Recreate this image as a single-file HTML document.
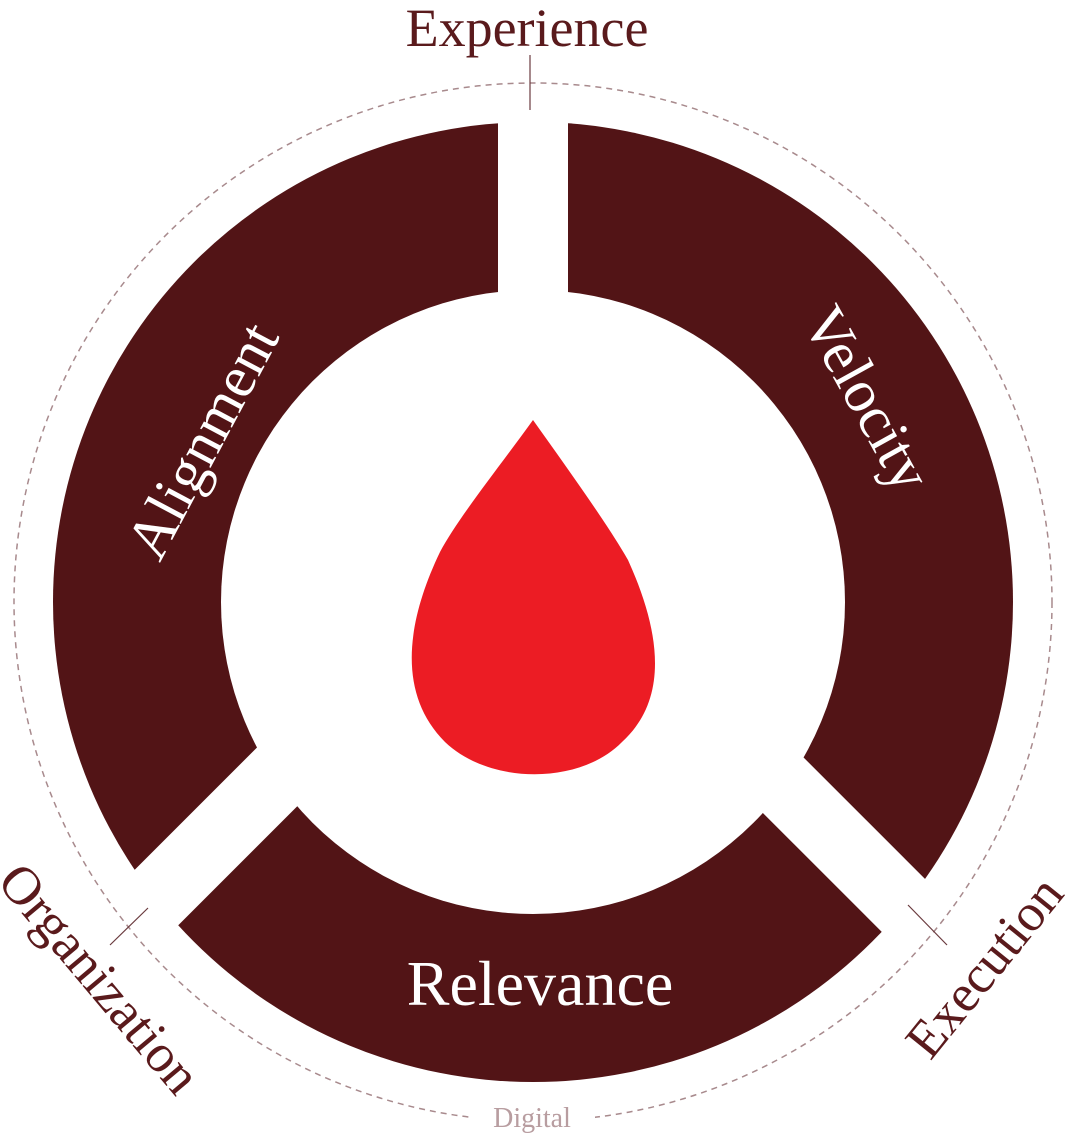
<!DOCTYPE html>
<html><head><meta charset="utf-8"><style>
html,body{margin:0;padding:0;background:#fff;}
svg{display:block;}
text{font-family:"Liberation Serif",serif;}
</style></head><body>
<svg width="1068" height="1138" viewBox="0 0 1068 1138" xmlns="http://www.w3.org/2000/svg">
<circle cx="533" cy="602" r="480" fill="#521416"/>
<circle cx="533" cy="602" r="312" fill="#fff"/>
<line x1="533" y1="60" x2="533" y2="400" stroke="#fff" stroke-width="70"/>
<line x1="420" y1="634" x2="90" y2="964" stroke="#fff" stroke-width="70"/>
<line x1="660" y1="662" x2="990" y2="992" stroke="#fff" stroke-width="68"/>
<circle cx="533" cy="602" r="519" fill="none" stroke="#a88a8d" stroke-width="1.5" stroke-dasharray="6 5"/>
<rect x="470" y="1095" width="125" height="40" fill="#fff"/>
<line x1="530" y1="55" x2="530" y2="110" stroke="#6a3a3e" stroke-width="1.2"/>
<line x1="110" y1="945" x2="148" y2="908" stroke="#6a3a3e" stroke-width="1.2"/>
<line x1="908" y1="905" x2="947" y2="945" stroke="#6a3a3e" stroke-width="1.2"/>
<path d="M533,420 C570,472 610,528 628,560 C662,635 668,700 622,742 C580,785 490,785 445,742 C398,695 405,625 440,552 C458,518 500,466 533,420 Z" fill="#ec1c24"/>
<g fill="#fff" font-size="60" text-anchor="middle">
<text transform="translate(220,450) rotate(-62)">Alignment</text>
<text transform="translate(850,408) rotate(61)">Velocity</text>
<text x="540" y="1005" font-size="64">Relevance</text>
</g>
<g fill="#5a1a1c" font-size="54" text-anchor="middle">
<text x="527" y="46">Experience</text>
<text transform="translate(86,990) rotate(50)">Organization</text>
<text transform="translate(998,978) rotate(-51)" font-size="53">Execution</text>
</g>
<text x="532" y="1127" font-size="28" fill="#b89da0" text-anchor="middle">Digital</text>
</svg>
</body></html>
